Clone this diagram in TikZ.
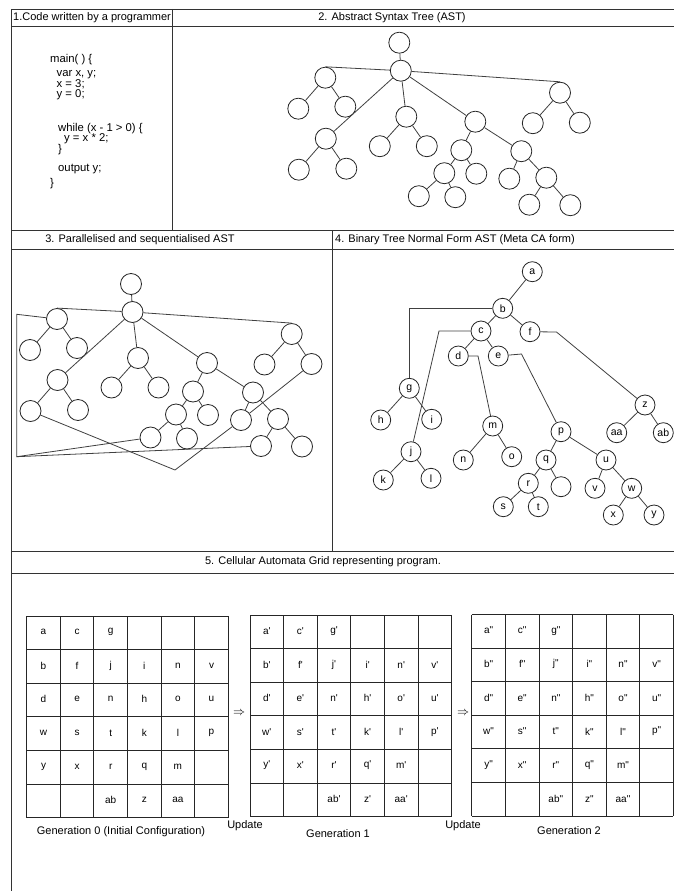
\documentclass[tikz,border=0pt]{standalone}
\usepackage{fontspec}
\setmainfont{Liberation Sans}

\begin{document}
\begin{tikzpicture}[x=1pt, y=-1pt,
    boxline/.style={draw=black!80, line width=0.9pt},
    link/.style={draw=black!75, line width=0.8pt},
    vtx/.style={circle, draw=black!85, fill=white, line width=0.8pt, minimum size=21pt, inner sep=0pt},
    lvtx/.style={vtx, minimum size=20pt, font=\fontsize{10.5}{11}\selectfont},
    title/.style={font=\fontsize{11}{12}\selectfont, inner sep=0pt},
    codeline/.style={font=\fontsize{11.3}{12}\selectfont, inner sep=0pt, anchor=west,
        text height=7.5pt, text depth=1.5pt},
    cell/.style={font=\fontsize{10}{11}\selectfont, inner sep=0pt},
    gridline/.style={draw=black!85, line width=0.9pt}]

\useasboundingbox (0,0) rectangle (674,891);

% AST macro
% Arguments: name prefix, root x, root y
\def\asttree#1#2#3{
    \begin{scope}[shift={(#2,#3)}]
    % Nodes
    \foreach \nm/\px/\py in {root/0/0, hub/1.5/28, L/-74/35, La/-101/66, Lb/-54/64,
        K/-73.5/96, Ka/-100.5/127, Kb/-53/126, M/7/74, Ma/-19.5/103.5, Mb/27.5/103.5,
        N/76/79, P/62/107.5, Q/122/108.5, Pa/45/130.5, Pb/77/131, Paa/19.5/153.5,
        Pab/56/154.5, Qa/110/136, Qb/147/135, Qba/130/162, Qbb/171/162.5,
        R/160.7/50, Ra/133.5/80.5, Rb/180.5/80}
        \node[vtx] (#1\nm) at (\px,\py) {};

    % Edges
    \foreach \sa/\sb in {root/hub, hub/K, hub/M, hub/N, L/La, L/Lb, K/Ka, K/Kb,
        M/Ma, M/Mb, N/P, N/Q, P/Pa, P/Pb, Pa/Paa, Pa/Pab, Q/Qa, Q/Qb,
        Qb/Qba, Qb/Qbb, R/Ra, R/Rb}
        \draw[link] (#1\sa) -- (#1\sb);
    \draw[link] (#1hub) -- (#1L.north);
    \draw[link] (#1hub) -- (#1R.north);
    \end{scope}
}

% CA grid macro
% Arguments: name prefix, left, top, prime mark
\def\cagrid#1#2#3#4{
    \begin{scope}[shift={(#2,#3)}]
    % Grid lines
    \foreach \i in {0,...,6} {
        \draw[gridline] (\i*33.6,0) -- (\i*33.6,201.6);
        \draw[gridline] (0,\i*33.6) -- (201.6,\i*33.6);
    }
    % Cell contents
    \foreach \row/\col/\txt in {1/1/a, 1/2/c, 1/3/g, 2/1/b, 2/2/f, 2/3/j, 2/4/i,
        2/5/n, 2/6/v, 3/1/d, 3/2/e, 3/3/n, 3/4/h, 3/5/o, 3/6/u, 4/1/w, 4/2/s,
        4/3/t, 4/4/k, 4/5/l, 4/6/p, 5/1/y, 5/2/x, 5/3/r, 5/4/q, 5/5/m,
        6/3/ab, 6/4/z, 6/5/aa}
        \node[cell] (#1-\row-\col) at (\col*33.6-16.8, \row*33.6-17.5) {\txt#4};
    \end{scope}
}

% Frame
\draw[boxline] (674,9) -- (11,9) -- (11,891);
\draw[boxline] (11,26) -- (674,26);
\draw[boxline] (172,9) -- (172,230);
\draw[boxline] (11,230) -- (674,230);
\draw[boxline] (11,249) -- (674,249);
\draw[boxline] (332,230) -- (332,551);
\draw[boxline] (11,551) -- (674,551);
\draw[boxline] (11,573) -- (674,573);

% Headers
\node[title, anchor=west] (h1) at (13,17.5) {1.Code written by a programmer};
\node[title] (h2) at (392,17.5) {2. Abstract Syntax Tree (AST)};
\node[title] (h3) at (140,239.5) {3. Parallelised and sequentialised AST};
\node[title, anchor=west] (h4) at (335,239.5) {4. Binary Tree Normal Form AST (Meta CA form)};
\node[title] (h5) at (323,562) {5. Cellular Automata Grid representing program.};

% 1. Code
\foreach \yy/\xx/\txt [count=\k] in {60/50/{main( ) \{}, 74/56.5/{var x, y;},
    84/56.5/{x = 3;}, 94/56.5/{y = 0;}, 128/58/{while (x - 1 > 0) \{},
    138/64/{y = x * 2;}, 149/58/\}, 168/58/{output y;}, 183/50/\}}
    \node[codeline] (code\k) at (\xx,\yy) {\txt};

% 2. AST
\asttree{p2}{399.3}{42.7}

% 3. Parallelised and sequentialised AST
\asttree{p3}{131}{284}
\coordinate (cTop) at (16.7,314.3);
\coordinate (cBot) at (16.7,456.7);
\coordinate (cDip) at (175,470);
\draw[link] (p3L) -- (cTop) -- (cBot) -- (p3Paa);
\draw[link] (cBot) -- (p3Qba);
\draw[link] (p3Ka) -- (cDip) -- (p3Qa) -- (p3Rb);

% 4. Binary tree normal form
\foreach \nm/\px/\py in {a/532.3/271.7, b/502.7/308.3, c/481/331, f/530/331.7,
    d/458.3/356, e/498.3/356, g/409.3/388.3, h/380.7/420, i/431.7/419.3,
    j/411/451.7, k/383.3/480, l/431/478.3, m/492.7/426, n/463.3/460,
    o/511.7/456.7, p/561/431.7, q/546/460, r/528.3/483.3, s/503.3/506.7,
    t/538.3/506.7, u/606/460, v/595/488.3, w/631.7/488.3, x/613.3/515,
    y/654/515, z/645/405, aa/616.7/432.7, ab/663.3/432.7}
    \node[lvtx] (\nm) at (\px,\py) {\nm};
\node[lvtx] (qq) at (561,486.7) {};

\foreach \sa/\sb in {a/b, b/c, b/f, c/d, c/e, g/h, g/i, j/k, j/l, m/n, m/o,
    p/q, p/u, q/r, q/qq, r/s, r/t, u/v, u/w, w/x, w/y, z/aa, z/ab}
    \draw[link] (\sa) -- (\sb);

% Elbow links
\coordinate (cj) at (439,331);
\coordinate (dm) at (478,356);
\coordinate (ep) at (521.5,354);
\coordinate (fz) at (556.5,332);
\draw[link] (b) -| (g);
\draw[link] (c) -- (cj) -- (j);
\draw[link] (d) -- (dm) -- (m);
\draw[link] (e) -- (ep) -- (p);
\draw[link] (f) -- (fz) -- (z);

% 5. Cellular automata grids
\cagrid{ga}{26.7}{616}{}
\cagrid{gb}{250}{615}{\textquotesingle}
\cagrid{gc}{471.8}{614.5}{\textquotedbl}

% Update arrows
\node (arr1) at (239,713) {\fontsize{13}{14}\selectfont$\Rightarrow$};
\node (arr2) at (463,713) {\fontsize{13}{14}\selectfont$\Rightarrow$};

% Captions
\node[title] (gen0) at (121,832) {Generation 0 (Initial Configuration)};
\node[title] (upd1) at (245,826) {Update};
\node[title] (gen1) at (338,834) {Generation 1};
\node[title] (upd2) at (463,826) {Update};
\node[title] (gen2) at (569,831) {Generation 2};

\end{tikzpicture}
\end{document}
